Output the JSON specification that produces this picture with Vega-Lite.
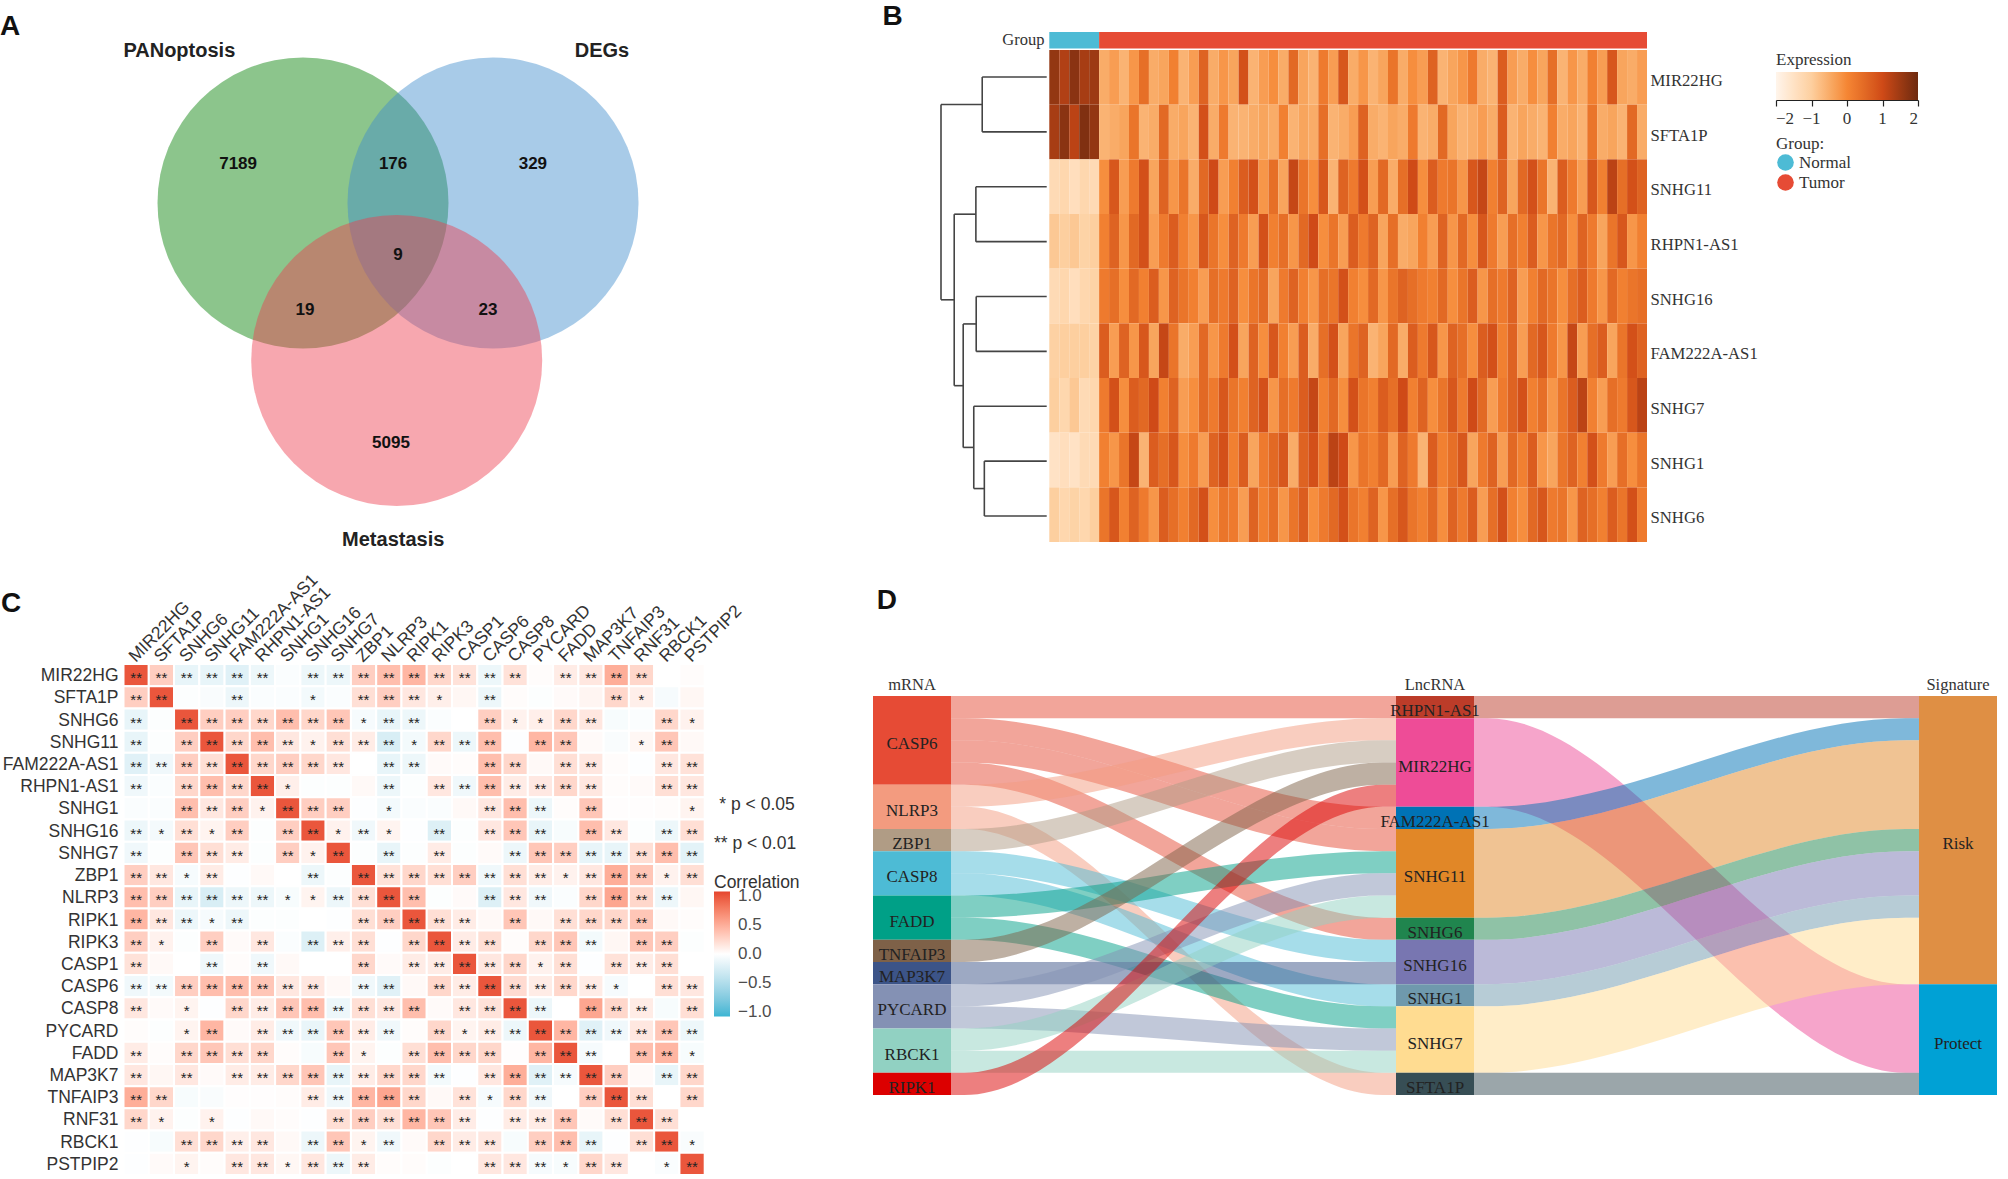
{"$schema":"https://vega.github.io/schema/vega-lite/v6.json","width":2008,"height":1179,"autosize":"none","padding":0,"background":"white","config":{"view":{"stroke":null}},
"datasets":{
"corr":[
{"i":0,"j":0,"r":1,"s":"**"},{"i":0,"j":1,"r":0.3,"s":"**"},{"i":0,"j":2,"r":-0.15,"s":"**"},{"i":0,"j":3,"r":-0.15,"s":"**"},{"i":0,"j":4,"r":-0.2,"s":"**"},{"i":0,"j":5,"r":-0.12,"s":"**"},{"i":0,"j":6,"r":-0.03},{"i":0,"j":7,"r":-0.12,"s":"**"},{"i":0,"j":8,"r":-0.12,"s":"**"},{"i":0,"j":9,"r":0.3,"s":"**"},{"i":0,"j":10,"r":0.4,"s":"**"},{"i":0,"j":11,"r":0.45,"s":"**"},{"i":0,"j":12,"r":0.25,"s":"**"},{"i":0,"j":13,"r":0.18,"s":"**"},{"i":0,"j":14,"r":-0.12,"s":"**"},{"i":0,"j":15,"r":0.18,"s":"**"},{"i":0,"j":16,"r":0.02},{"i":0,"j":17,"r":0.12,"s":"**"},{"i":0,"j":18,"r":0.15,"s":"**"},{"i":0,"j":19,"r":0.5,"s":"**"},{"i":0,"j":20,"r":0.25,"s":"**"},{"i":0,"j":21,"r":0},{"i":0,"j":22,"r":0.02},
{"i":1,"j":0,"r":0.3,"s":"**"},{"i":1,"j":1,"r":1,"s":"**"},{"i":1,"j":2,"r":-0.02},{"i":1,"j":3,"r":-0.04},{"i":1,"j":4,"r":-0.12,"s":"**"},{"i":1,"j":5,"r":-0.03},{"i":1,"j":6,"r":-0.03},{"i":1,"j":7,"r":-0.08,"s":"*"},{"i":1,"j":8,"r":-0.03},{"i":1,"j":9,"r":0.2,"s":"**"},{"i":1,"j":10,"r":0.3,"s":"**"},{"i":1,"j":11,"r":0.15,"s":"**"},{"i":1,"j":12,"r":0.1,"s":"*"},{"i":1,"j":13,"r":0.05},{"i":1,"j":14,"r":-0.12,"s":"**"},{"i":1,"j":15,"r":0.02},{"i":1,"j":16,"r":-0.02},{"i":1,"j":17,"r":0.03},{"i":1,"j":18,"r":0.06},{"i":1,"j":19,"r":0.25,"s":"**"},{"i":1,"j":20,"r":0.1,"s":"*"},{"i":1,"j":21,"r":-0.06},{"i":1,"j":22,"r":0.05},
{"i":2,"j":0,"r":-0.15,"s":"**"},{"i":2,"j":1,"r":-0.02},{"i":2,"j":2,"r":1,"s":"**"},{"i":2,"j":3,"r":0.3,"s":"**"},{"i":2,"j":4,"r":0.3,"s":"**"},{"i":2,"j":5,"r":0.25,"s":"**"},{"i":2,"j":6,"r":0.4,"s":"**"},{"i":2,"j":7,"r":0.25,"s":"**"},{"i":2,"j":8,"r":0.35,"s":"**"},{"i":2,"j":9,"r":-0.06,"s":"*"},{"i":2,"j":10,"r":-0.15,"s":"**"},{"i":2,"j":11,"r":-0.12,"s":"**"},{"i":2,"j":12,"r":-0.03},{"i":2,"j":13,"r":0},{"i":2,"j":14,"r":0.3,"s":"**"},{"i":2,"j":15,"r":0.08,"s":"*"},{"i":2,"j":16,"r":0.1,"s":"*"},{"i":2,"j":17,"r":0.25,"s":"**"},{"i":2,"j":18,"r":0.15,"s":"**"},{"i":2,"j":19,"r":-0.05},{"i":2,"j":20,"r":-0.03},{"i":2,"j":21,"r":0.25,"s":"**"},{"i":2,"j":22,"r":0.08,"s":"*"},
{"i":3,"j":0,"r":-0.15,"s":"**"},{"i":3,"j":1,"r":-0.02},{"i":3,"j":2,"r":0.3,"s":"**"},{"i":3,"j":3,"r":1,"s":"**"},{"i":3,"j":4,"r":0.25,"s":"**"},{"i":3,"j":5,"r":0.4,"s":"**"},{"i":3,"j":6,"r":0.15,"s":"**"},{"i":3,"j":7,"r":0.08,"s":"*"},{"i":3,"j":8,"r":0.2,"s":"**"},{"i":3,"j":9,"r":0.12,"s":"**"},{"i":3,"j":10,"r":-0.25,"s":"**"},{"i":3,"j":11,"r":-0.08,"s":"*"},{"i":3,"j":12,"r":0.25,"s":"**"},{"i":3,"j":13,"r":-0.12,"s":"**"},{"i":3,"j":14,"r":0.4,"s":"**"},{"i":3,"j":15,"r":-0.01},{"i":3,"j":16,"r":0.45,"s":"**"},{"i":3,"j":17,"r":0.35,"s":"**"},{"i":3,"j":18,"r":0.03},{"i":3,"j":19,"r":-0.04},{"i":3,"j":20,"r":0.05,"s":"*"},{"i":3,"j":21,"r":0.35,"s":"**"},{"i":3,"j":22,"r":0.04},
{"i":4,"j":0,"r":-0.2,"s":"**"},{"i":4,"j":1,"r":-0.1,"s":"**"},{"i":4,"j":2,"r":0.3,"s":"**"},{"i":4,"j":3,"r":0.2,"s":"**"},{"i":4,"j":4,"r":1,"s":"**"},{"i":4,"j":5,"r":0.25,"s":"**"},{"i":4,"j":6,"r":0.3,"s":"**"},{"i":4,"j":7,"r":0.25,"s":"**"},{"i":4,"j":8,"r":0.15,"s":"**"},{"i":4,"j":9,"r":0},{"i":4,"j":10,"r":-0.15,"s":"**"},{"i":4,"j":11,"r":-0.12,"s":"**"},{"i":4,"j":12,"r":0.03},{"i":4,"j":13,"r":0.02},{"i":4,"j":14,"r":0.4,"s":"**"},{"i":4,"j":15,"r":0.25,"s":"**"},{"i":4,"j":16,"r":0.04},{"i":4,"j":17,"r":0.2,"s":"**"},{"i":4,"j":18,"r":0.15,"s":"**"},{"i":4,"j":19,"r":0.02},{"i":4,"j":20,"r":-0.01},{"i":4,"j":21,"r":0.15,"s":"**"},{"i":4,"j":22,"r":0.18,"s":"**"},
{"i":5,"j":0,"r":-0.1,"s":"**"},{"i":5,"j":1,"r":-0.03},{"i":5,"j":2,"r":0.25,"s":"**"},{"i":5,"j":3,"r":0.4,"s":"**"},{"i":5,"j":4,"r":0.25,"s":"**"},{"i":5,"j":5,"r":1,"s":"**"},{"i":5,"j":6,"r":0.1,"s":"*"},{"i":5,"j":7,"r":-0.02},{"i":5,"j":8,"r":-0.02},{"i":5,"j":9,"r":0.04},{"i":5,"j":10,"r":-0.12,"s":"**"},{"i":5,"j":11,"r":-0.02},{"i":5,"j":12,"r":0.15,"s":"**"},{"i":5,"j":13,"r":-0.1,"s":"**"},{"i":5,"j":14,"r":0.4,"s":"**"},{"i":5,"j":15,"r":0.12,"s":"**"},{"i":5,"j":16,"r":0.14,"s":"**"},{"i":5,"j":17,"r":0.25,"s":"**"},{"i":5,"j":18,"r":0.15,"s":"**"},{"i":5,"j":19,"r":0.02},{"i":5,"j":20,"r":0.03},{"i":5,"j":21,"r":0.2,"s":"**"},{"i":5,"j":22,"r":0.15,"s":"**"},
{"i":6,"j":0,"r":-0.03},{"i":6,"j":1,"r":-0.03},{"i":6,"j":2,"r":0.4,"s":"**"},{"i":6,"j":3,"r":0.15,"s":"**"},{"i":6,"j":4,"r":0.3,"s":"**"},{"i":6,"j":5,"r":0.08,"s":"*"},{"i":6,"j":6,"r":1,"s":"**"},{"i":6,"j":7,"r":0.3,"s":"**"},{"i":6,"j":8,"r":0.3,"s":"**"},{"i":6,"j":9,"r":-0.01},{"i":6,"j":10,"r":-0.08,"s":"*"},{"i":6,"j":11,"r":-0.03},{"i":6,"j":12,"r":-0.03},{"i":6,"j":13,"r":0.04},{"i":6,"j":14,"r":0.15,"s":"**"},{"i":6,"j":15,"r":0.4,"s":"**"},{"i":6,"j":16,"r":-0.12,"s":"**"},{"i":6,"j":17,"r":0.02},{"i":6,"j":18,"r":0.35,"s":"**"},{"i":6,"j":19,"r":0.01},{"i":6,"j":20,"r":0.01},{"i":6,"j":21,"r":0.02},{"i":6,"j":22,"r":0.07,"s":"*"},
{"i":7,"j":0,"r":-0.12,"s":"**"},{"i":7,"j":1,"r":-0.07,"s":"*"},{"i":7,"j":2,"r":0.2,"s":"**"},{"i":7,"j":3,"r":0.07,"s":"*"},{"i":7,"j":4,"r":0.3,"s":"**"},{"i":7,"j":5,"r":-0.02},{"i":7,"j":6,"r":0.3,"s":"**"},{"i":7,"j":7,"r":1,"s":"**"},{"i":7,"j":8,"r":0.08,"s":"*"},{"i":7,"j":9,"r":-0.1,"s":"**"},{"i":7,"j":10,"r":0.07,"s":"*"},{"i":7,"j":11,"r":-0.01},{"i":7,"j":12,"r":-0.22,"s":"**"},{"i":7,"j":13,"r":-0.02},{"i":7,"j":14,"r":0.15,"s":"**"},{"i":7,"j":15,"r":0.35,"s":"**"},{"i":7,"j":16,"r":-0.15,"s":"**"},{"i":7,"j":17,"r":-0.05},{"i":7,"j":18,"r":0.4,"s":"**"},{"i":7,"j":19,"r":0.15,"s":"**"},{"i":7,"j":20,"r":-0.02},{"i":7,"j":21,"r":-0.12,"s":"**"},{"i":7,"j":22,"r":0.2,"s":"**"},
{"i":8,"j":0,"r":-0.1,"s":"**"},{"i":8,"j":1,"r":-0.02},{"i":8,"j":2,"r":0.35,"s":"**"},{"i":8,"j":3,"r":0.2,"s":"**"},{"i":8,"j":4,"r":0.12,"s":"**"},{"i":8,"j":5,"r":-0.02},{"i":8,"j":6,"r":0.3,"s":"**"},{"i":8,"j":7,"r":0.08,"s":"*"},{"i":8,"j":8,"r":1,"s":"**"},{"i":8,"j":9,"r":-0.02},{"i":8,"j":10,"r":-0.15,"s":"**"},{"i":8,"j":11,"r":-0.02},{"i":8,"j":12,"r":0.12,"s":"**"},{"i":8,"j":13,"r":-0.02},{"i":8,"j":14,"r":0.03},{"i":8,"j":15,"r":-0.12,"s":"**"},{"i":8,"j":16,"r":0.35,"s":"**"},{"i":8,"j":17,"r":0.3,"s":"**"},{"i":8,"j":18,"r":-0.15,"s":"**"},{"i":8,"j":19,"r":-0.15,"s":"**"},{"i":8,"j":20,"r":0.2,"s":"**"},{"i":8,"j":21,"r":0.4,"s":"**"},{"i":8,"j":22,"r":-0.18,"s":"**"},
{"i":9,"j":0,"r":0.3,"s":"**"},{"i":9,"j":1,"r":0.15,"s":"**"},{"i":9,"j":2,"r":-0.06,"s":"*"},{"i":9,"j":3,"r":0.12,"s":"**"},{"i":9,"j":4,"r":-0.01},{"i":9,"j":5,"r":0.04},{"i":9,"j":6,"r":0},{"i":9,"j":7,"r":-0.12,"s":"**"},{"i":9,"j":8,"r":-0.02},{"i":9,"j":9,"r":1,"s":"**"},{"i":9,"j":10,"r":0.18,"s":"**"},{"i":9,"j":11,"r":0.25,"s":"**"},{"i":9,"j":12,"r":0.2,"s":"**"},{"i":9,"j":13,"r":0.3,"s":"**"},{"i":9,"j":14,"r":-0.1,"s":"**"},{"i":9,"j":15,"r":0.2,"s":"**"},{"i":9,"j":16,"r":0.12,"s":"**"},{"i":9,"j":17,"r":0.08,"s":"*"},{"i":9,"j":18,"r":0.15,"s":"**"},{"i":9,"j":19,"r":0.5,"s":"**"},{"i":9,"j":20,"r":0.35,"s":"**"},{"i":9,"j":21,"r":0.08,"s":"*"},{"i":9,"j":22,"r":0.2,"s":"**"},
{"i":10,"j":0,"r":0.4,"s":"**"},{"i":10,"j":1,"r":0.3,"s":"**"},{"i":10,"j":2,"r":-0.15,"s":"**"},{"i":10,"j":3,"r":-0.25,"s":"**"},{"i":10,"j":4,"r":-0.12,"s":"**"},{"i":10,"j":5,"r":-0.12,"s":"**"},{"i":10,"j":6,"r":-0.05,"s":"*"},{"i":10,"j":7,"r":0.07,"s":"*"},{"i":10,"j":8,"r":-0.12,"s":"**"},{"i":10,"j":9,"r":0.2,"s":"**"},{"i":10,"j":10,"r":1,"s":"**"},{"i":10,"j":11,"r":0.4,"s":"**"},{"i":10,"j":12,"r":-0.02},{"i":10,"j":13,"r":0.03},{"i":10,"j":14,"r":-0.22,"s":"**"},{"i":10,"j":15,"r":0.15,"s":"**"},{"i":10,"j":16,"r":-0.1,"s":"**"},{"i":10,"j":17,"r":-0.03},{"i":10,"j":18,"r":0.25,"s":"**"},{"i":10,"j":19,"r":0.55,"s":"**"},{"i":10,"j":20,"r":0.25,"s":"**"},{"i":10,"j":21,"r":-0.12,"s":"**"},{"i":10,"j":22,"r":0.05},
{"i":11,"j":0,"r":0.45,"s":"**"},{"i":11,"j":1,"r":0.15,"s":"**"},{"i":11,"j":2,"r":-0.12,"s":"**"},{"i":11,"j":3,"r":-0.06,"s":"*"},{"i":11,"j":4,"r":-0.12,"s":"**"},{"i":11,"j":5,"r":-0.02},{"i":11,"j":6,"r":-0.02},{"i":11,"j":7,"r":0},{"i":11,"j":8,"r":-0.01},{"i":11,"j":9,"r":0.2,"s":"**"},{"i":11,"j":10,"r":0.3,"s":"**"},{"i":11,"j":11,"r":1,"s":"**"},{"i":11,"j":12,"r":0.2,"s":"**"},{"i":11,"j":13,"r":0.12,"s":"**"},{"i":11,"j":14,"r":0.04},{"i":11,"j":15,"r":0.35,"s":"**"},{"i":11,"j":16,"r":0.04},{"i":11,"j":17,"r":0.2,"s":"**"},{"i":11,"j":18,"r":0.25,"s":"**"},{"i":11,"j":19,"r":0.25,"s":"**"},{"i":11,"j":20,"r":0.35,"s":"**"},{"i":11,"j":21,"r":0.04},{"i":11,"j":22,"r":0.02},
{"i":12,"j":0,"r":0.3,"s":"**"},{"i":12,"j":1,"r":0.08,"s":"*"},{"i":12,"j":2,"r":-0.02},{"i":12,"j":3,"r":0.3,"s":"**"},{"i":12,"j":4,"r":0.03},{"i":12,"j":5,"r":0.15,"s":"**"},{"i":12,"j":6,"r":-0.03},{"i":12,"j":7,"r":-0.22,"s":"**"},{"i":12,"j":8,"r":0.1,"s":"**"},{"i":12,"j":9,"r":0.2,"s":"**"},{"i":12,"j":10,"r":-0.01},{"i":12,"j":11,"r":0.25,"s":"**"},{"i":12,"j":12,"r":1,"s":"**"},{"i":12,"j":13,"r":0.12,"s":"**"},{"i":12,"j":14,"r":0.2,"s":"**"},{"i":12,"j":15,"r":0.02},{"i":12,"j":16,"r":0.25,"s":"**"},{"i":12,"j":17,"r":0.35,"s":"**"},{"i":12,"j":18,"r":-0.08,"s":"**"},{"i":12,"j":19,"r":0.05},{"i":12,"j":20,"r":0.35,"s":"**"},{"i":12,"j":21,"r":0.3,"s":"**"},{"i":12,"j":22,"r":-0.02},
{"i":13,"j":0,"r":0.18,"s":"**"},{"i":13,"j":1,"r":0.04},{"i":13,"j":2,"r":0},{"i":13,"j":3,"r":-0.1,"s":"**"},{"i":13,"j":4,"r":0.02},{"i":13,"j":5,"r":-0.1,"s":"**"},{"i":13,"j":6,"r":0.04},{"i":13,"j":7,"r":0},{"i":13,"j":8,"r":0},{"i":13,"j":9,"r":0.25,"s":"**"},{"i":13,"j":10,"r":0.03},{"i":13,"j":11,"r":0.12,"s":"**"},{"i":13,"j":12,"r":0.12,"s":"**"},{"i":13,"j":13,"r":1,"s":"**"},{"i":13,"j":14,"r":0.15,"s":"**"},{"i":13,"j":15,"r":0.25,"s":"**"},{"i":13,"j":16,"r":0.08,"s":"*"},{"i":13,"j":17,"r":0.2,"s":"**"},{"i":13,"j":18,"r":-0.01},{"i":13,"j":19,"r":0.18,"s":"**"},{"i":13,"j":20,"r":0.12,"s":"**"},{"i":13,"j":21,"r":0.2,"s":"**"},{"i":13,"j":22,"r":0},
{"i":14,"j":0,"r":-0.1,"s":"**"},{"i":14,"j":1,"r":-0.08,"s":"**"},{"i":14,"j":2,"r":0.3,"s":"**"},{"i":14,"j":3,"r":0.4,"s":"**"},{"i":14,"j":4,"r":0.4,"s":"**"},{"i":14,"j":5,"r":0.35,"s":"**"},{"i":14,"j":6,"r":0.15,"s":"**"},{"i":14,"j":7,"r":0.15,"s":"**"},{"i":14,"j":8,"r":0.04},{"i":14,"j":9,"r":-0.1,"s":"**"},{"i":14,"j":10,"r":-0.2,"s":"**"},{"i":14,"j":11,"r":0.04},{"i":14,"j":12,"r":0.25,"s":"**"},{"i":14,"j":13,"r":0.12,"s":"**"},{"i":14,"j":14,"r":1,"s":"**"},{"i":14,"j":15,"r":0.22,"s":"**"},{"i":14,"j":16,"r":0.12,"s":"**"},{"i":14,"j":17,"r":0.25,"s":"**"},{"i":14,"j":18,"r":0.12,"s":"**"},{"i":14,"j":19,"r":-0.06,"s":"*"},{"i":14,"j":20,"r":0},{"i":14,"j":21,"r":0.2,"s":"**"},{"i":14,"j":22,"r":0.15,"s":"**"},
{"i":15,"j":0,"r":0.15,"s":"**"},{"i":15,"j":1,"r":0.03},{"i":15,"j":2,"r":0.07,"s":"*"},{"i":15,"j":3,"r":-0.01},{"i":15,"j":4,"r":0.25,"s":"**"},{"i":15,"j":5,"r":0.12,"s":"**"},{"i":15,"j":6,"r":0.35,"s":"**"},{"i":15,"j":7,"r":0.4,"s":"**"},{"i":15,"j":8,"r":-0.12,"s":"**"},{"i":15,"j":9,"r":0.2,"s":"**"},{"i":15,"j":10,"r":0.15,"s":"**"},{"i":15,"j":11,"r":0.4,"s":"**"},{"i":15,"j":12,"r":0.03},{"i":15,"j":13,"r":0.15,"s":"**"},{"i":15,"j":14,"r":0.18,"s":"**"},{"i":15,"j":15,"r":1,"s":"**"},{"i":15,"j":16,"r":-0.12,"s":"**"},{"i":15,"j":17,"r":0},{"i":15,"j":18,"r":0.55,"s":"**"},{"i":15,"j":19,"r":0.25,"s":"**"},{"i":15,"j":20,"r":0.12,"s":"**"},{"i":15,"j":21,"r":-0.05},{"i":15,"j":22,"r":0.2,"s":"**"},
{"i":16,"j":0,"r":0.02},{"i":16,"j":1,"r":-0.02},{"i":16,"j":2,"r":0.07,"s":"*"},{"i":16,"j":3,"r":0.45,"s":"**"},{"i":16,"j":4,"r":0.03},{"i":16,"j":5,"r":0.12,"s":"**"},{"i":16,"j":6,"r":-0.1,"s":"**"},{"i":16,"j":7,"r":-0.14,"s":"**"},{"i":16,"j":8,"r":0.35,"s":"**"},{"i":16,"j":9,"r":0.12,"s":"**"},{"i":16,"j":10,"r":-0.1,"s":"**"},{"i":16,"j":11,"r":0.02},{"i":16,"j":12,"r":0.25,"s":"**"},{"i":16,"j":13,"r":0.07,"s":"*"},{"i":16,"j":14,"r":0.12,"s":"**"},{"i":16,"j":15,"r":-0.12,"s":"**"},{"i":16,"j":16,"r":1,"s":"**"},{"i":16,"j":17,"r":0.45,"s":"**"},{"i":16,"j":18,"r":-0.2,"s":"**"},{"i":16,"j":19,"r":-0.1,"s":"**"},{"i":16,"j":20,"r":0.15,"s":"**"},{"i":16,"j":21,"r":0.35,"s":"**"},{"i":16,"j":22,"r":-0.12,"s":"**"},
{"i":17,"j":0,"r":0.12,"s":"**"},{"i":17,"j":1,"r":0.02},{"i":17,"j":2,"r":0.25,"s":"**"},{"i":17,"j":3,"r":0.35,"s":"**"},{"i":17,"j":4,"r":0.2,"s":"**"},{"i":17,"j":5,"r":0.25,"s":"**"},{"i":17,"j":6,"r":0.02},{"i":17,"j":7,"r":-0.05},{"i":17,"j":8,"r":0.35,"s":"**"},{"i":17,"j":9,"r":0.07,"s":"*"},{"i":17,"j":10,"r":-0.02},{"i":17,"j":11,"r":0.2,"s":"**"},{"i":17,"j":12,"r":0.4,"s":"**"},{"i":17,"j":13,"r":0.25,"s":"**"},{"i":17,"j":14,"r":0.25,"s":"**"},{"i":17,"j":15,"r":0.01},{"i":17,"j":16,"r":0.45,"s":"**"},{"i":17,"j":17,"r":1,"s":"**"},{"i":17,"j":18,"r":-0.06,"s":"**"},{"i":17,"j":19,"r":0},{"i":17,"j":20,"r":0.4,"s":"**"},{"i":17,"j":21,"r":0.45,"s":"**"},{"i":17,"j":22,"r":-0.05,"s":"*"},
{"i":18,"j":0,"r":0.15,"s":"**"},{"i":18,"j":1,"r":0.05},{"i":18,"j":2,"r":0.15,"s":"**"},{"i":18,"j":3,"r":0.03},{"i":18,"j":4,"r":0.12,"s":"**"},{"i":18,"j":5,"r":0.12,"s":"**"},{"i":18,"j":6,"r":0.25,"s":"**"},{"i":18,"j":7,"r":0.35,"s":"**"},{"i":18,"j":8,"r":-0.15,"s":"**"},{"i":18,"j":9,"r":0.12,"s":"**"},{"i":18,"j":10,"r":0.25,"s":"**"},{"i":18,"j":11,"r":0.25,"s":"**"},{"i":18,"j":12,"r":-0.08,"s":"**"},{"i":18,"j":13,"r":-0.01},{"i":18,"j":14,"r":0.15,"s":"**"},{"i":18,"j":15,"r":0.5,"s":"**"},{"i":18,"j":16,"r":-0.2,"s":"**"},{"i":18,"j":17,"r":-0.06,"s":"**"},{"i":18,"j":18,"r":1,"s":"**"},{"i":18,"j":19,"r":0.3,"s":"**"},{"i":18,"j":20,"r":0.03},{"i":18,"j":21,"r":-0.15,"s":"**"},{"i":18,"j":22,"r":0.25,"s":"**"},
{"i":19,"j":0,"r":0.5,"s":"**"},{"i":19,"j":1,"r":0.25,"s":"**"},{"i":19,"j":2,"r":-0.05},{"i":19,"j":3,"r":-0.04},{"i":19,"j":4,"r":0.01},{"i":19,"j":5,"r":0.01},{"i":19,"j":6,"r":0.02},{"i":19,"j":7,"r":0.12,"s":"**"},{"i":19,"j":8,"r":-0.1,"s":"**"},{"i":19,"j":9,"r":0.45,"s":"**"},{"i":19,"j":10,"r":0.55,"s":"**"},{"i":19,"j":11,"r":0.25,"s":"**"},{"i":19,"j":12,"r":0.04},{"i":19,"j":13,"r":0.18,"s":"**"},{"i":19,"j":14,"r":-0.06,"s":"*"},{"i":19,"j":15,"r":0.25,"s":"**"},{"i":19,"j":16,"r":-0.1,"s":"**"},{"i":19,"j":17,"r":0},{"i":19,"j":18,"r":0.3,"s":"**"},{"i":19,"j":19,"r":1,"s":"**"},{"i":19,"j":20,"r":0.2,"s":"**"},{"i":19,"j":21,"r":0},{"i":19,"j":22,"r":0.25,"s":"**"},
{"i":20,"j":0,"r":0.25,"s":"**"},{"i":20,"j":1,"r":0.08,"s":"*"},{"i":20,"j":2,"r":-0.02},{"i":20,"j":3,"r":0.08,"s":"*"},{"i":20,"j":4,"r":-0.01},{"i":20,"j":5,"r":0.04},{"i":20,"j":6,"r":0.02},{"i":20,"j":7,"r":-0.01},{"i":20,"j":8,"r":0.2,"s":"**"},{"i":20,"j":9,"r":0.3,"s":"**"},{"i":20,"j":10,"r":0.2,"s":"**"},{"i":20,"j":11,"r":0.45,"s":"**"},{"i":20,"j":12,"r":0.35,"s":"**"},{"i":20,"j":13,"r":0.12,"s":"**"},{"i":20,"j":14,"r":-0.01},{"i":20,"j":15,"r":0.12,"s":"**"},{"i":20,"j":16,"r":0.12,"s":"**"},{"i":20,"j":17,"r":0.35,"s":"**"},{"i":20,"j":18,"r":0.03},{"i":20,"j":19,"r":0.2,"s":"**"},{"i":20,"j":20,"r":1,"s":"**"},{"i":20,"j":21,"r":0.2,"s":"**"},{"i":20,"j":22,"r":0},
{"i":21,"j":0,"r":-0.01},{"i":21,"j":1,"r":-0.05},{"i":21,"j":2,"r":0.2,"s":"**"},{"i":21,"j":3,"r":0.25,"s":"**"},{"i":21,"j":4,"r":0.1,"s":"**"},{"i":21,"j":5,"r":0.15,"s":"**"},{"i":21,"j":6,"r":0.04},{"i":21,"j":7,"r":-0.12,"s":"**"},{"i":21,"j":8,"r":0.35,"s":"**"},{"i":21,"j":9,"r":0.07,"s":"*"},{"i":21,"j":10,"r":-0.1,"s":"**"},{"i":21,"j":11,"r":0.03},{"i":21,"j":12,"r":0.25,"s":"**"},{"i":21,"j":13,"r":0.12,"s":"**"},{"i":21,"j":14,"r":0.15,"s":"**"},{"i":21,"j":15,"r":-0.05},{"i":21,"j":16,"r":0.3,"s":"**"},{"i":21,"j":17,"r":0.4,"s":"**"},{"i":21,"j":18,"r":-0.15,"s":"**"},{"i":21,"j":19,"r":-0.01},{"i":21,"j":20,"r":0.2,"s":"**"},{"i":21,"j":21,"r":1,"s":"**"},{"i":21,"j":22,"r":-0.04,"s":"*"},
{"i":22,"j":0,"r":-0.01},{"i":22,"j":1,"r":0.03},{"i":22,"j":2,"r":0.07,"s":"*"},{"i":22,"j":3,"r":0.02},{"i":22,"j":4,"r":0.15,"s":"**"},{"i":22,"j":5,"r":0.15,"s":"**"},{"i":22,"j":6,"r":0.05,"s":"*"},{"i":22,"j":7,"r":0.15,"s":"**"},{"i":22,"j":8,"r":-0.12,"s":"**"},{"i":22,"j":9,"r":0.12,"s":"**"},{"i":22,"j":10,"r":0.02},{"i":22,"j":11,"r":0.02},{"i":22,"j":12,"r":-0.02},{"i":22,"j":13,"r":0},{"i":22,"j":14,"r":0.15,"s":"**"},{"i":22,"j":15,"r":0.15,"s":"**"},{"i":22,"j":16,"r":-0.06,"s":"**"},{"i":22,"j":17,"r":-0.05,"s":"*"},{"i":22,"j":18,"r":0.25,"s":"**"},{"i":22,"j":19,"r":0.15,"s":"**"},{"i":22,"j":20,"r":0},{"i":22,"j":21,"r":-0.03,"s":"*"},{"i":22,"j":22,"r":1,"s":"**"}
],
"flows":[
{"f":1,"c":"CASP6","x":0,"y":0,"y2":1},{"f":1,"c":"CASP6","x":0.03,"y":0,"y2":1},{"f":1,"c":"CASP6","x":0.97,"y":0,"y2":1},{"f":1,"c":"CASP6","x":1,"y":0,"y2":1},
{"f":2,"c":"CASP6","x":0,"y":1,"y2":2},{"f":2,"c":"CASP6","x":0.03,"y":1,"y2":2},{"f":2,"c":"CASP6","x":0.97,"y":5,"y2":6},{"f":2,"c":"CASP6","x":1,"y":5,"y2":6},
{"f":3,"c":"CASP6","x":0,"y":2,"y2":3},{"f":3,"c":"CASP6","x":0.03,"y":2,"y2":3},{"f":3,"c":"CASP6","x":0.97,"y":6,"y2":7},{"f":3,"c":"CASP6","x":1,"y":6,"y2":7},
{"f":4,"c":"CASP6","x":0,"y":3,"y2":4},{"f":4,"c":"CASP6","x":0.03,"y":3,"y2":4},{"f":4,"c":"CASP6","x":0.97,"y":10,"y2":11},{"f":4,"c":"CASP6","x":1,"y":10,"y2":11},
{"f":5,"c":"NLRP3","x":0,"y":4,"y2":5},{"f":5,"c":"NLRP3","x":0.03,"y":4,"y2":5},{"f":5,"c":"NLRP3","x":0.97,"y":1,"y2":2},{"f":5,"c":"NLRP3","x":1,"y":1,"y2":2},
{"f":6,"c":"NLRP3","x":0,"y":5,"y2":6},{"f":6,"c":"NLRP3","x":0.03,"y":5,"y2":6},{"f":6,"c":"NLRP3","x":0.97,"y":17,"y2":18},{"f":6,"c":"NLRP3","x":1,"y":17,"y2":18},
{"f":7,"c":"ZBP1","x":0,"y":6,"y2":7},{"f":7,"c":"ZBP1","x":0.03,"y":6,"y2":7},{"f":7,"c":"ZBP1","x":0.97,"y":2,"y2":3},{"f":7,"c":"ZBP1","x":1,"y":2,"y2":3},
{"f":8,"c":"CASP8","x":0,"y":7,"y2":8},{"f":8,"c":"CASP8","x":0.03,"y":7,"y2":8},{"f":8,"c":"CASP8","x":0.97,"y":11,"y2":12},{"f":8,"c":"CASP8","x":1,"y":11,"y2":12},
{"f":9,"c":"CASP8","x":0,"y":8,"y2":9},{"f":9,"c":"CASP8","x":0.03,"y":8,"y2":9},{"f":9,"c":"CASP8","x":0.97,"y":13,"y2":14},{"f":9,"c":"CASP8","x":1,"y":13,"y2":14},
{"f":10,"c":"FADD","x":0,"y":9,"y2":10},{"f":10,"c":"FADD","x":0.03,"y":9,"y2":10},{"f":10,"c":"FADD","x":0.97,"y":7,"y2":8},{"f":10,"c":"FADD","x":1,"y":7,"y2":8},
{"f":11,"c":"FADD","x":0,"y":10,"y2":11},{"f":11,"c":"FADD","x":0.03,"y":10,"y2":11},{"f":11,"c":"FADD","x":0.97,"y":14,"y2":15},{"f":11,"c":"FADD","x":1,"y":14,"y2":15},
{"f":12,"c":"TNFAIP3","x":0,"y":11,"y2":12},{"f":12,"c":"TNFAIP3","x":0.03,"y":11,"y2":12},{"f":12,"c":"TNFAIP3","x":0.97,"y":3,"y2":4},{"f":12,"c":"TNFAIP3","x":1,"y":3,"y2":4},
{"f":13,"c":"MAP3K7","x":0,"y":12,"y2":13},{"f":13,"c":"MAP3K7","x":0.03,"y":12,"y2":13},{"f":13,"c":"MAP3K7","x":0.97,"y":12,"y2":13},{"f":13,"c":"MAP3K7","x":1,"y":12,"y2":13},
{"f":14,"c":"PYCARD","x":0,"y":13,"y2":14},{"f":14,"c":"PYCARD","x":0.03,"y":13,"y2":14},{"f":14,"c":"PYCARD","x":0.97,"y":8,"y2":9},{"f":14,"c":"PYCARD","x":1,"y":8,"y2":9},
{"f":15,"c":"PYCARD","x":0,"y":14,"y2":15},{"f":15,"c":"PYCARD","x":0.03,"y":14,"y2":15},{"f":15,"c":"PYCARD","x":0.97,"y":15,"y2":16},{"f":15,"c":"PYCARD","x":1,"y":15,"y2":16},
{"f":16,"c":"RBCK1","x":0,"y":15,"y2":16},{"f":16,"c":"RBCK1","x":0.03,"y":15,"y2":16},{"f":16,"c":"RBCK1","x":0.97,"y":9,"y2":10},{"f":16,"c":"RBCK1","x":1,"y":9,"y2":10},
{"f":17,"c":"RBCK1","x":0,"y":16,"y2":17},{"f":17,"c":"RBCK1","x":0.03,"y":16,"y2":17},{"f":17,"c":"RBCK1","x":0.97,"y":16,"y2":17},{"f":17,"c":"RBCK1","x":1,"y":16,"y2":17},
{"f":18,"c":"RIPK1","x":0,"y":17,"y2":18},{"f":18,"c":"RIPK1","x":0.03,"y":17,"y2":18},{"f":18,"c":"RIPK1","x":0.97,"y":4,"y2":5},{"f":18,"c":"RIPK1","x":1,"y":4,"y2":5},
{"f":19,"c":"RHPN1-AS1","x":2,"y":0,"y2":1},{"f":19,"c":"RHPN1-AS1","x":2.03,"y":0,"y2":1},{"f":19,"c":"RHPN1-AS1","x":2.97,"y":0,"y2":1},{"f":19,"c":"RHPN1-AS1","x":3,"y":0,"y2":1},
{"f":20,"c":"MIR22HG","x":2,"y":1,"y2":5},{"f":20,"c":"MIR22HG","x":2.03,"y":1,"y2":5},{"f":20,"c":"MIR22HG","x":2.97,"y":13,"y2":17},{"f":20,"c":"MIR22HG","x":3,"y":13,"y2":17},
{"f":21,"c":"FAM222A-AS1","x":2,"y":5,"y2":6},{"f":21,"c":"FAM222A-AS1","x":2.03,"y":5,"y2":6},{"f":21,"c":"FAM222A-AS1","x":2.97,"y":1,"y2":2},{"f":21,"c":"FAM222A-AS1","x":3,"y":1,"y2":2},
{"f":22,"c":"SNHG11","x":2,"y":6,"y2":10},{"f":22,"c":"SNHG11","x":2.03,"y":6,"y2":10},{"f":22,"c":"SNHG11","x":2.97,"y":2,"y2":6},{"f":22,"c":"SNHG11","x":3,"y":2,"y2":6},
{"f":23,"c":"SNHG6","x":2,"y":10,"y2":11},{"f":23,"c":"SNHG6","x":2.03,"y":10,"y2":11},{"f":23,"c":"SNHG6","x":2.97,"y":6,"y2":7},{"f":23,"c":"SNHG6","x":3,"y":6,"y2":7},
{"f":24,"c":"SNHG16","x":2,"y":11,"y2":13},{"f":24,"c":"SNHG16","x":2.03,"y":11,"y2":13},{"f":24,"c":"SNHG16","x":2.97,"y":7,"y2":9},{"f":24,"c":"SNHG16","x":3,"y":7,"y2":9},
{"f":25,"c":"SNHG1","x":2,"y":13,"y2":14},{"f":25,"c":"SNHG1","x":2.03,"y":13,"y2":14},{"f":25,"c":"SNHG1","x":2.97,"y":9,"y2":10},{"f":25,"c":"SNHG1","x":3,"y":9,"y2":10},
{"f":26,"c":"SNHG7","x":2,"y":14,"y2":17},{"f":26,"c":"SNHG7","x":2.03,"y":14,"y2":17},{"f":26,"c":"SNHG7","x":2.97,"y":10,"y2":13},{"f":26,"c":"SNHG7","x":3,"y":10,"y2":13},
{"f":27,"c":"SFTA1P","x":2,"y":17,"y2":18},{"f":27,"c":"SFTA1P","x":2.03,"y":17,"y2":18},{"f":27,"c":"SFTA1P","x":2.97,"y":17,"y2":18},{"f":27,"c":"SFTA1P","x":3,"y":17,"y2":18}
],
"nodes":[
{"c":"CASP6","x":-1,"x2":0,"y":0,"y2":4,"m":-0.5,"n":2},{"c":"NLRP3","x":-1,"x2":0,"y":4,"y2":6,"m":-0.5,"n":5},{"c":"ZBP1","x":-1,"x2":0,"y":6,"y2":7,"m":-0.5,"n":6.5},{"c":"CASP8","x":-1,"x2":0,"y":7,"y2":9,"m":-0.5,"n":8},{"c":"FADD","x":-1,"x2":0,"y":9,"y2":11,"m":-0.5,"n":10},{"c":"TNFAIP3","x":-1,"x2":0,"y":11,"y2":12,"m":-0.5,"n":11.5},{"c":"MAP3K7","x":-1,"x2":0,"y":12,"y2":13,"m":-0.5,"n":12.5},{"c":"PYCARD","x":-1,"x2":0,"y":13,"y2":15,"m":-0.5,"n":14},{"c":"RBCK1","x":-1,"x2":0,"y":15,"y2":17,"m":-0.5,"n":16},{"c":"RIPK1","x":-1,"x2":0,"y":17,"y2":18,"m":-0.5,"n":17.5},
{"c":"RHPN1-AS1","x":1,"x2":2,"y":0,"y2":1,"m":1.5,"n":0.5},{"c":"MIR22HG","x":1,"x2":2,"y":1,"y2":5,"m":1.5,"n":3},{"c":"FAM222A-AS1","x":1,"x2":2,"y":5,"y2":6,"m":1.5,"n":5.5},{"c":"SNHG11","x":1,"x2":2,"y":6,"y2":10,"m":1.5,"n":8},{"c":"SNHG6","x":1,"x2":2,"y":10,"y2":11,"m":1.5,"n":10.5},{"c":"SNHG16","x":1,"x2":2,"y":11,"y2":13,"m":1.5,"n":12},{"c":"SNHG1","x":1,"x2":2,"y":13,"y2":14,"m":1.5,"n":13.5},{"c":"SNHG7","x":1,"x2":2,"y":14,"y2":17,"m":1.5,"n":15.5},{"c":"SFTA1P","x":1,"x2":2,"y":17,"y2":18,"m":1.5,"n":17.5},
{"c":"Risk","x":3,"x2":4,"y":0,"y2":13,"m":3.5,"n":6.5},{"c":"Protect","x":3,"x2":4,"y":13,"y2":18,"m":3.5,"n":15.5}
]
},
"layer":[
{"data":{"values":[{"set":"PANoptosis","x":0,"y":0},{"set":"DEGs","x":130.6,"y":0},{"set":"Metastasis","x":64.4,"y":108.2}]},
"mark":{"type":"point","filled":true,"size":84681,"opacity":0.45},
"encoding":{"x":{"field":"x","type":"quantitative","axis":null,"scale":{"domain":[0,100],"range":[303,448.5],"zero":false,"nice":false}},"y":{"field":"y","type":"quantitative","axis":null,"scale":{"domain":[0,100],"range":[203,348.5],"zero":false,"nice":false}},"color":{"field":"set","type":"nominal","legend":null,"scale":{"domain":["PANoptosis","DEGs","Metastasis"],"range":["#007F00","#3E8CCC","#EE3C4E"]}}}},
{"data":{"values":[{"t":"7189","x":-44.6,"y":-26.8},{"t":"176","x":61.9,"y":-26.8},{"t":"329","x":158,"y":-26.8},{"t":"19","x":1.4,"y":73.5},{"t":"9","x":65.3,"y":35.7},{"t":"23","x":127.1,"y":73.5},{"t":"5095","x":60.5,"y":165}]},
"mark":{"type":"text","font":"Liberation Sans","fontWeight":"bold","fontSize":17,"color":"#111111"},
"encoding":{"text":{"field":"t"},"x":{"field":"x","type":"quantitative","axis":null,"scale":{"domain":[0,100],"range":[303,448.5],"zero":false,"nice":false}},"y":{"field":"y","type":"quantitative","axis":null,"scale":{"domain":[0,100],"range":[203,348.5],"zero":false,"nice":false}}}},
{"data":{"values":[{"t":"PANoptosis","x":-85,"y":-105},{"t":"DEGs","x":205.5,"y":-105},{"t":"Metastasis","x":62,"y":231}]},
"mark":{"type":"text","font":"Liberation Sans","fontWeight":"bold","fontSize":20,"color":"#222222","dy":1},
"encoding":{"text":{"field":"t"},"x":{"field":"x","type":"quantitative","axis":null,"scale":{"domain":[0,100],"range":[303,448.5],"zero":false,"nice":false}},"y":{"field":"y","type":"quantitative","axis":null,"scale":{"domain":[0,100],"range":[203,348.5],"zero":false,"nice":false}}}},
{"data":{"values":[
{"g":0,"s":0,"v":1.6},{"g":0,"s":1,"v":1.3},{"g":0,"s":2,"v":1.7},{"g":0,"s":3,"v":1.4},{"g":0,"s":4,"v":1.5},{"g":0,"s":5,"v":-0.5},{"g":0,"s":6,"v":-0.3},{"g":0,"s":7,"v":-0.6},{"g":0,"s":8,"v":-0.2},{"g":0,"s":9,"v":0.4},{"g":0,"s":10,"v":-0.5},{"g":0,"s":11,"v":-0.4},{"g":0,"s":12,"v":0.1},{"g":0,"s":13,"v":-0.6},{"g":0,"s":14,"v":-0.3},{"g":0,"s":15,"v":0.6},{"g":0,"s":16,"v":-0.5},{"g":0,"s":17,"v":-0.2},{"g":0,"s":18,"v":-0.4},{"g":0,"s":19,"v":0.9},{"g":0,"s":20,"v":-0.6},{"g":0,"s":21,"v":-0.3},{"g":0,"s":22,"v":-0.1},{"g":0,"s":23,"v":-0.5},{"g":0,"s":24,"v":0.5},{"g":0,"s":25,"v":-0.4},{"g":0,"s":26,"v":-0.6},{"g":0,"s":27,"v":0.2},{"g":0,"s":28,"v":-0.3},{"g":0,"s":29,"v":0.8},{"g":0,"s":30,"v":-0.5},{"g":0,"s":31,"v":-0.2},{"g":0,"s":32,"v":-0.6},{"g":0,"s":33,"v":-0.4},{"g":0,"s":34,"v":0.3},{"g":0,"s":35,"v":-0.5},{"g":0,"s":36,"v":-0.1},{"g":0,"s":37,"v":-0.3},{"g":0,"s":38,"v":0.6},{"g":0,"s":39,"v":-0.6},{"g":0,"s":40,"v":-0.4},{"g":0,"s":41,"v":-0.2},{"g":0,"s":42,"v":0.2},{"g":0,"s":43,"v":-0.5},{"g":0,"s":44,"v":-0.6},{"g":0,"s":45,"v":0.7},{"g":0,"s":46,"v":-0.3},{"g":0,"s":47,"v":-0.5},{"g":0,"s":48,"v":-0.1},{"g":0,"s":49,"v":-0.4},{"g":0,"s":50,"v":0.4},{"g":0,"s":51,"v":-0.6},{"g":0,"s":52,"v":-0.2},{"g":0,"s":53,"v":-0.5},{"g":0,"s":54,"v":0.1},{"g":0,"s":55,"v":-0.3},{"g":0,"s":56,"v":0.8},{"g":0,"s":57,"v":-0.4},{"g":0,"s":58,"v":-0.5},{"g":0,"s":59,"v":-0.3},
{"g":1,"s":0,"v":1.4},{"g":1,"s":1,"v":1.7},{"g":1,"s":2,"v":1.2},{"g":1,"s":3,"v":1.8},{"g":1,"s":4,"v":1.6},{"g":1,"s":5,"v":-0.6},{"g":1,"s":6,"v":-0.5},{"g":1,"s":7,"v":-0.4},{"g":1,"s":8,"v":0.3},{"g":1,"s":9,"v":-0.6},{"g":1,"s":10,"v":-0.5},{"g":1,"s":11,"v":0.5},{"g":1,"s":12,"v":-0.5},{"g":1,"s":13,"v":-0.4},{"g":1,"s":14,"v":-0.6},{"g":1,"s":15,"v":0.9},{"g":1,"s":16,"v":-0.5},{"g":1,"s":17,"v":0.2},{"g":1,"s":18,"v":-0.6},{"g":1,"s":19,"v":-0.6},{"g":1,"s":20,"v":-0.5},{"g":1,"s":21,"v":-0.4},{"g":1,"s":22,"v":-0.5},{"g":1,"s":23,"v":0.1},{"g":1,"s":24,"v":-0.6},{"g":1,"s":25,"v":-0.4},{"g":1,"s":26,"v":-0.5},{"g":1,"s":27,"v":0.4},{"g":1,"s":28,"v":-0.6},{"g":1,"s":29,"v":-0.5},{"g":1,"s":30,"v":-0.3},{"g":1,"s":31,"v":0.6},{"g":1,"s":32,"v":-0.5},{"g":1,"s":33,"v":-0.6},{"g":1,"s":34,"v":-0.4},{"g":1,"s":35,"v":-0.5},{"g":1,"s":36,"v":0.2},{"g":1,"s":37,"v":-0.6},{"g":1,"s":38,"v":-0.5},{"g":1,"s":39,"v":0.5},{"g":1,"s":40,"v":-0.4},{"g":1,"s":41,"v":-0.6},{"g":1,"s":42,"v":-0.5},{"g":1,"s":43,"v":-0.3},{"g":1,"s":44,"v":-0.5},{"g":1,"s":45,"v":0.7},{"g":1,"s":46,"v":-0.6},{"g":1,"s":47,"v":-0.4},{"g":1,"s":48,"v":-0.5},{"g":1,"s":49,"v":-0.6},{"g":1,"s":50,"v":0.1},{"g":1,"s":51,"v":-0.5},{"g":1,"s":52,"v":-0.4},{"g":1,"s":53,"v":-0.6},{"g":1,"s":54,"v":0.3},{"g":1,"s":55,"v":-0.5},{"g":1,"s":56,"v":-0.4},{"g":1,"s":57,"v":-0.6},{"g":1,"s":58,"v":0.5},{"g":1,"s":59,"v":-0.5},
{"g":2,"s":0,"v":-1.3},{"g":2,"s":1,"v":-1.2},{"g":2,"s":2,"v":-1.4},{"g":2,"s":3,"v":-1.2},{"g":2,"s":4,"v":-1.3},{"g":2,"s":5,"v":-0.1},{"g":2,"s":6,"v":0.8},{"g":2,"s":7,"v":-0.3},{"g":2,"s":8,"v":0.2},{"g":2,"s":9,"v":0.9},{"g":2,"s":10,"v":-0.4},{"g":2,"s":11,"v":0.6},{"g":2,"s":12,"v":-0.2},{"g":2,"s":13,"v":0.3},{"g":2,"s":14,"v":-0.5},{"g":2,"s":15,"v":0.5},{"g":2,"s":16,"v":1},{"g":2,"s":17,"v":-0.3},{"g":2,"s":18,"v":0.1},{"g":2,"s":19,"v":0.7},{"g":2,"s":20,"v":0.9},{"g":2,"s":21,"v":-0.2},{"g":2,"s":22,"v":0.4},{"g":2,"s":23,"v":-0.4},{"g":2,"s":24,"v":1.1},{"g":2,"s":25,"v":0.3},{"g":2,"s":26,"v":-0.1},{"g":2,"s":27,"v":0.8},{"g":2,"s":28,"v":-0.6},{"g":2,"s":29,"v":0.6},{"g":2,"s":30,"v":0.2},{"g":2,"s":31,"v":0.9},{"g":2,"s":32,"v":-0.3},{"g":2,"s":33,"v":0.5},{"g":2,"s":34,"v":-0.5},{"g":2,"s":35,"v":0.4},{"g":2,"s":36,"v":1},{"g":2,"s":37,"v":-0.1},{"g":2,"s":38,"v":0.7},{"g":2,"s":39,"v":0.2},{"g":2,"s":40,"v":0.3},{"g":2,"s":41,"v":-0.2},{"g":2,"s":42,"v":0.8},{"g":2,"s":43,"v":1.1},{"g":2,"s":44,"v":0.1},{"g":2,"s":45,"v":0.6},{"g":2,"s":46,"v":-0.4},{"g":2,"s":47,"v":0.5},{"g":2,"s":48,"v":0.9},{"g":2,"s":49,"v":0.3},{"g":2,"s":50,"v":-0.6},{"g":2,"s":51,"v":0.7},{"g":2,"s":52,"v":0.2},{"g":2,"s":53,"v":-0.3},{"g":2,"s":54,"v":0.8},{"g":2,"s":55,"v":0.1},{"g":2,"s":56,"v":1.2},{"g":2,"s":57,"v":0.4},{"g":2,"s":58,"v":0.9},{"g":2,"s":59,"v":0.6},
{"g":3,"s":0,"v":-0.9},{"g":3,"s":1,"v":-1},{"g":3,"s":2,"v":-0.9},{"g":3,"s":3,"v":-1.1},{"g":3,"s":4,"v":-1},{"g":3,"s":5,"v":0.1},{"g":3,"s":6,"v":0.6},{"g":3,"s":7,"v":-0.2},{"g":3,"s":8,"v":0.5},{"g":3,"s":9,"v":0.9},{"g":3,"s":10,"v":-0.3},{"g":3,"s":11,"v":0.2},{"g":3,"s":12,"v":0.7},{"g":3,"s":13,"v":0.1},{"g":3,"s":14,"v":-0.2},{"g":3,"s":15,"v":0.8},{"g":3,"s":16,"v":0.3},{"g":3,"s":17,"v":-0.1},{"g":3,"s":18,"v":0.6},{"g":3,"s":19,"v":0.2},{"g":3,"s":20,"v":-0.3},{"g":3,"s":21,"v":0.9},{"g":3,"s":22,"v":0.1},{"g":3,"s":23,"v":0.4},{"g":3,"s":24,"v":-0.2},{"g":3,"s":25,"v":0.5},{"g":3,"s":26,"v":1},{"g":3,"s":27,"v":-0.1},{"g":3,"s":28,"v":0.3},{"g":3,"s":29,"v":-0.3},{"g":3,"s":30,"v":0.7},{"g":3,"s":31,"v":0.2},{"g":3,"s":32,"v":0.6},{"g":3,"s":33,"v":-0.4},{"g":3,"s":34,"v":0.4},{"g":3,"s":35,"v":-0.5},{"g":3,"s":36,"v":-0.4},{"g":3,"s":37,"v":0.1},{"g":3,"s":38,"v":-0.3},{"g":3,"s":39,"v":0.6},{"g":3,"s":40,"v":-0.2},{"g":3,"s":41,"v":0.5},{"g":3,"s":42,"v":-0.1},{"g":3,"s":43,"v":0.8},{"g":3,"s":44,"v":0.2},{"g":3,"s":45,"v":-0.3},{"g":3,"s":46,"v":0.4},{"g":3,"s":47,"v":0.1},{"g":3,"s":48,"v":0.7},{"g":3,"s":49,"v":-0.2},{"g":3,"s":50,"v":0.3},{"g":3,"s":51,"v":0.5},{"g":3,"s":52,"v":-0.1},{"g":3,"s":53,"v":0.6},{"g":3,"s":54,"v":0.2},{"g":3,"s":55,"v":-0.4},{"g":3,"s":56,"v":0.3},{"g":3,"s":57,"v":0.8},{"g":3,"s":58,"v":-0.2},{"g":3,"s":59,"v":0.1},
{"g":4,"s":0,"v":-1.3},{"g":4,"s":1,"v":-1.2},{"g":4,"s":2,"v":-1.4},{"g":4,"s":3,"v":-1.2},{"g":4,"s":4,"v":-1.1},{"g":4,"s":5,"v":0.2},{"g":4,"s":6,"v":0.4},{"g":4,"s":7,"v":-0.1},{"g":4,"s":8,"v":0.5},{"g":4,"s":9,"v":0.1},{"g":4,"s":10,"v":0.7},{"g":4,"s":11,"v":-0.2},{"g":4,"s":12,"v":0.6},{"g":4,"s":13,"v":0.3},{"g":4,"s":14,"v":0.1},{"g":4,"s":15,"v":-0.3},{"g":4,"s":16,"v":0.4},{"g":4,"s":17,"v":0.2},{"g":4,"s":18,"v":0.6},{"g":4,"s":19,"v":-0.1},{"g":4,"s":20,"v":0.3},{"g":4,"s":21,"v":0.5},{"g":4,"s":22,"v":-0.4},{"g":4,"s":23,"v":0.2},{"g":4,"s":24,"v":0.6},{"g":4,"s":25,"v":0.1},{"g":4,"s":26,"v":-0.2},{"g":4,"s":27,"v":0.4},{"g":4,"s":28,"v":0.3},{"g":4,"s":29,"v":0.9},{"g":4,"s":30,"v":0.1},{"g":4,"s":31,"v":-0.1},{"g":4,"s":32,"v":0.5},{"g":4,"s":33,"v":-0.2},{"g":4,"s":34,"v":0.3},{"g":4,"s":35,"v":0.6},{"g":4,"s":36,"v":0.4},{"g":4,"s":37,"v":0.2},{"g":4,"s":38,"v":0.1},{"g":4,"s":39,"v":0.5},{"g":4,"s":40,"v":-0.1},{"g":4,"s":41,"v":0.3},{"g":4,"s":42,"v":0.7},{"g":4,"s":43,"v":-0.2},{"g":4,"s":44,"v":0.4},{"g":4,"s":45,"v":0.2},{"g":4,"s":46,"v":0.6},{"g":4,"s":47,"v":-0.3},{"g":4,"s":48,"v":0.1},{"g":4,"s":49,"v":0.5},{"g":4,"s":50,"v":0.3},{"g":4,"s":51,"v":-0.1},{"g":4,"s":52,"v":0.4},{"g":4,"s":53,"v":0.7},{"g":4,"s":54,"v":0.2},{"g":4,"s":55,"v":-0.2},{"g":4,"s":56,"v":0.5},{"g":4,"s":57,"v":0.1},{"g":4,"s":58,"v":0.3},{"g":4,"s":59,"v":0.4},
{"g":5,"s":0,"v":-1.05},{"g":5,"s":1,"v":-1},{"g":5,"s":2,"v":-1},{"g":5,"s":3,"v":-1},{"g":5,"s":4,"v":-1.1},{"g":5,"s":5,"v":0.7},{"g":5,"s":6,"v":-0.3},{"g":5,"s":7,"v":0.6},{"g":5,"s":8,"v":-0.2},{"g":5,"s":9,"v":0.8},{"g":5,"s":10,"v":-0.4},{"g":5,"s":11,"v":1.1},{"g":5,"s":12,"v":0.3},{"g":5,"s":13,"v":-0.5},{"g":5,"s":14,"v":-0.3},{"g":5,"s":15,"v":0.5},{"g":5,"s":16,"v":-0.2},{"g":5,"s":17,"v":0.2},{"g":5,"s":18,"v":0.9},{"g":5,"s":19,"v":-0.4},{"g":5,"s":20,"v":0.6},{"g":5,"s":21,"v":-0.1},{"g":5,"s":22,"v":0.8},{"g":5,"s":23,"v":0.1},{"g":5,"s":24,"v":-0.3},{"g":5,"s":25,"v":0.7},{"g":5,"s":26,"v":-0.5},{"g":5,"s":27,"v":0.4},{"g":5,"s":28,"v":0.9},{"g":5,"s":29,"v":-0.4},{"g":5,"s":30,"v":0.3},{"g":5,"s":31,"v":0.6},{"g":5,"s":32,"v":-0.6},{"g":5,"s":33,"v":-0.4},{"g":5,"s":34,"v":0.5},{"g":5,"s":35,"v":-0.5},{"g":5,"s":36,"v":0.7},{"g":5,"s":37,"v":0.2},{"g":5,"s":38,"v":0.8},{"g":5,"s":39,"v":-0.2},{"g":5,"s":40,"v":0.6},{"g":5,"s":41,"v":0.4},{"g":5,"s":42,"v":-0.1},{"g":5,"s":43,"v":0.7},{"g":5,"s":44,"v":0.9},{"g":5,"s":45,"v":0.1},{"g":5,"s":46,"v":0.6},{"g":5,"s":47,"v":-0.3},{"g":5,"s":48,"v":0.5},{"g":5,"s":49,"v":0.8},{"g":5,"s":50,"v":0.2},{"g":5,"s":51,"v":-0.2},{"g":5,"s":52,"v":1.1},{"g":5,"s":53,"v":-0.3},{"g":5,"s":54,"v":0.4},{"g":5,"s":55,"v":0.7},{"g":5,"s":56,"v":-0.4},{"g":5,"s":57,"v":0.3},{"g":5,"s":58,"v":0.9},{"g":5,"s":59,"v":0.6},
{"g":6,"s":0,"v":-1},{"g":6,"s":1,"v":-1.2},{"g":6,"s":2,"v":-0.9},{"g":6,"s":3,"v":-1.3},{"g":6,"s":4,"v":-1.2},{"g":6,"s":5,"v":0.2},{"g":6,"s":6,"v":0.9},{"g":6,"s":7,"v":-0.1},{"g":6,"s":8,"v":0.7},{"g":6,"s":9,"v":0.5},{"g":6,"s":10,"v":1},{"g":6,"s":11,"v":0.1},{"g":6,"s":12,"v":0.6},{"g":6,"s":13,"v":-0.3},{"g":6,"s":14,"v":-0.1},{"g":6,"s":15,"v":0.5},{"g":6,"s":16,"v":0.2},{"g":6,"s":17,"v":0.8},{"g":6,"s":18,"v":0.3},{"g":6,"s":19,"v":0.1},{"g":6,"s":20,"v":0.6},{"g":6,"s":21,"v":0.9},{"g":6,"s":22,"v":-0.2},{"g":6,"s":23,"v":0.4},{"g":6,"s":24,"v":0.2},{"g":6,"s":25,"v":0.7},{"g":6,"s":26,"v":1.1},{"g":6,"s":27,"v":0.1},{"g":6,"s":28,"v":0.5},{"g":6,"s":29,"v":-0.1},{"g":6,"s":30,"v":0.9},{"g":6,"s":31,"v":0.3},{"g":6,"s":32,"v":0.1},{"g":6,"s":33,"v":0.7},{"g":6,"s":34,"v":0.4},{"g":6,"s":35,"v":1},{"g":6,"s":36,"v":0.1},{"g":6,"s":37,"v":0.6},{"g":6,"s":38,"v":-0.1},{"g":6,"s":39,"v":0.3},{"g":6,"s":40,"v":0.8},{"g":6,"s":41,"v":0.2},{"g":6,"s":42,"v":1},{"g":6,"s":43,"v":0.5},{"g":6,"s":44,"v":-0.3},{"g":6,"s":45,"v":0.2},{"g":6,"s":46,"v":0.6},{"g":6,"s":47,"v":0.9},{"g":6,"s":48,"v":0.1},{"g":6,"s":49,"v":0.4},{"g":6,"s":50,"v":-0.2},{"g":6,"s":51,"v":0.3},{"g":6,"s":52,"v":0.7},{"g":6,"s":53,"v":1.2},{"g":6,"s":54,"v":0.1},{"g":6,"s":55,"v":-0.3},{"g":6,"s":56,"v":0.4},{"g":6,"s":57,"v":0.2},{"g":6,"s":58,"v":0.8},{"g":6,"s":59,"v":1.2},
{"g":7,"s":0,"v":-1.5},{"g":7,"s":1,"v":-1.4},{"g":7,"s":2,"v":-1.5},{"g":7,"s":3,"v":-1.3},{"g":7,"s":4,"v":-1.3},{"g":7,"s":5,"v":0.1},{"g":7,"s":6,"v":-0.2},{"g":7,"s":7,"v":0.3},{"g":7,"s":8,"v":1.1},{"g":7,"s":9,"v":-0.6},{"g":7,"s":10,"v":0.7},{"g":7,"s":11,"v":0.4},{"g":7,"s":12,"v":0.8},{"g":7,"s":13,"v":-0.1},{"g":7,"s":14,"v":0.2},{"g":7,"s":15,"v":-0.3},{"g":7,"s":16,"v":0.6},{"g":7,"s":17,"v":0.9},{"g":7,"s":18,"v":0.1},{"g":7,"s":19,"v":0.7},{"g":7,"s":20,"v":-0.4},{"g":7,"s":21,"v":0.2},{"g":7,"s":22,"v":0.5},{"g":7,"s":23,"v":0.8},{"g":7,"s":24,"v":-0.5},{"g":7,"s":25,"v":0.6},{"g":7,"s":26,"v":0.9},{"g":7,"s":27,"v":0.2},{"g":7,"s":28,"v":1.2},{"g":7,"s":29,"v":1},{"g":7,"s":30,"v":-0.2},{"g":7,"s":31,"v":0.3},{"g":7,"s":32,"v":0.1},{"g":7,"s":33,"v":0.5},{"g":7,"s":34,"v":-0.3},{"g":7,"s":35,"v":0.6},{"g":7,"s":36,"v":0.2},{"g":7,"s":37,"v":-0.6},{"g":7,"s":38,"v":0.7},{"g":7,"s":39,"v":0.1},{"g":7,"s":40,"v":0.4},{"g":7,"s":41,"v":0.8},{"g":7,"s":42,"v":-0.4},{"g":7,"s":43,"v":0.2},{"g":7,"s":44,"v":0.6},{"g":7,"s":45,"v":-0.3},{"g":7,"s":46,"v":0.5},{"g":7,"s":47,"v":0.1},{"g":7,"s":48,"v":0.7},{"g":7,"s":49,"v":-0.2},{"g":7,"s":50,"v":-0.4},{"g":7,"s":51,"v":0.3},{"g":7,"s":52,"v":0.6},{"g":7,"s":53,"v":0.1},{"g":7,"s":54,"v":0.9},{"g":7,"s":55,"v":0.2},{"g":7,"s":56,"v":-0.3},{"g":7,"s":57,"v":0.4},{"g":7,"s":58,"v":-0.1},{"g":7,"s":59,"v":0.3},
{"g":8,"s":0,"v":-1},{"g":8,"s":1,"v":-1.2},{"g":8,"s":2,"v":-1.1},{"g":8,"s":3,"v":-1.2},{"g":8,"s":4,"v":-1},{"g":8,"s":5,"v":0.3},{"g":8,"s":6,"v":0.8},{"g":8,"s":7,"v":0.1},{"g":8,"s":8,"v":0.6},{"g":8,"s":9,"v":0.2},{"g":8,"s":10,"v":-0.2},{"g":8,"s":11,"v":0.7},{"g":8,"s":12,"v":0.4},{"g":8,"s":13,"v":0.1},{"g":8,"s":14,"v":0.5},{"g":8,"s":15,"v":0.9},{"g":8,"s":16,"v":-0.1},{"g":8,"s":17,"v":0.3},{"g":8,"s":18,"v":0.2},{"g":8,"s":19,"v":-0.3},{"g":8,"s":20,"v":0.6},{"g":8,"s":21,"v":0.1},{"g":8,"s":22,"v":0.4},{"g":8,"s":23,"v":-0.2},{"g":8,"s":24,"v":0.3},{"g":8,"s":25,"v":0.7},{"g":8,"s":26,"v":-0.1},{"g":8,"s":27,"v":0.2},{"g":8,"s":28,"v":0.5},{"g":8,"s":29,"v":0.9},{"g":8,"s":30,"v":0.3},{"g":8,"s":31,"v":0.1},{"g":8,"s":32,"v":0.6},{"g":8,"s":33,"v":-0.2},{"g":8,"s":34,"v":0.4},{"g":8,"s":35,"v":0.8},{"g":8,"s":36,"v":0.3},{"g":8,"s":37,"v":0.1},{"g":8,"s":38,"v":0.5},{"g":8,"s":39,"v":-0.1},{"g":8,"s":40,"v":0.6},{"g":8,"s":41,"v":0.2},{"g":8,"s":42,"v":0.7},{"g":8,"s":43,"v":-0.3},{"g":8,"s":44,"v":0.4},{"g":8,"s":45,"v":0.9},{"g":8,"s":46,"v":0.1},{"g":8,"s":47,"v":-0.1},{"g":8,"s":48,"v":0.5},{"g":8,"s":49,"v":0.8},{"g":8,"s":50,"v":0.2},{"g":8,"s":51,"v":0.3},{"g":8,"s":52,"v":-0.2},{"g":8,"s":53,"v":0.6},{"g":8,"s":54,"v":0.4},{"g":8,"s":55,"v":0.1},{"g":8,"s":56,"v":0.7},{"g":8,"s":57,"v":0.3},{"g":8,"s":58,"v":0.9},{"g":8,"s":59,"v":0.2}
]},
"mark":{"type":"rect"},
"encoding":{"x":{"field":"s","type":"ordinal","axis":null,"scale":{"range":[1049.3,1647],"paddingInner":0,"paddingOuter":0}},"y":{"field":"g","type":"ordinal","scale":{"range":[50,542],"paddingInner":0,"paddingOuter":0},"axis":{"orient":"right","offset":-358,"title":null,"domain":false,"ticks":false,"grid":false,"labelPadding":0,"labelOffset":3.5,"labelFont":"Liberation Serif","labelFontSize":16.7,"labelColor":"#333333","labelExpr":"['MIR22HG','SFTA1P','SNHG11','RHPN1-AS1','SNHG16','FAM222A-AS1','SNHG7','SNHG1','SNHG6'][datum.value]"}},"color":{"field":"v","type":"quantitative","scale":{"domain":[-2,-1,0,1,2],"range":["#FFF5EB","#FDCF9F","#F58634","#CF4A17","#6E2A0F"]},"legend":{"title":"Expression","orient":"none","legendX":1776,"legendY":52,"direction":"horizontal","gradientLength":142,"gradientThickness":28,"values":[-2,-1,0,1,2],"format":"d","titleFont":"Liberation Serif","titleFontSize":17,"titleFontWeight":"normal","titleColor":"#333333","labelFont":"Liberation Serif","labelFontSize":17,"labelColor":"#333333","labelAlign":"center","titlePadding":3,"labelOffset":11}}}},
{"data":{"values":[{"tick":-2},{"tick":-1},{"tick":0},{"tick":1},{"tick":2}]},
"mark":{"type":"point","opacity":0},
"encoding":{"x":{"field":"tick","type":"quantitative","scale":{"domain":[-2,2],"range":[1776,1918],"zero":false,"nice":false},"axis":{"orient":"bottom","offset":-1079,"title":null,"labels":false,"grid":false,"values":[-2,-1,0,1,2],"tickSize":6,"tickColor":"#222222","domainColor":"#222222","tickWidth":1.2,"domainWidth":1.2}}}},
{"data":{"values":[{"group":"Normal","row":"Group","from":0,"to":5},{"group":"Tumor","row":"Group","from":5,"to":60}]},
"mark":{"type":"rect"},
"encoding":{"x":{"field":"from","type":"quantitative","axis":null,"scale":{"domain":[0,60],"range":[1049.3,1647],"zero":false,"nice":false}},"x2":{"field":"to"},"y":{"field":"row","type":"nominal","scale":{"domain":["Group"],"range":[32,48.5],"paddingInner":0,"paddingOuter":0},"axis":{"orient":"left","offset":-1044,"title":null,"domain":false,"ticks":false,"grid":false,"labelPadding":0,"labelFont":"Liberation Serif","labelFontSize":16.5,"labelColor":"#333333"}},"color":{"field":"group","type":"nominal","scale":{"domain":["Normal","Tumor"],"range":["#4DBBD5","#E64B35"]},"legend":{"title":"Group:","orient":"none","legendX":1776,"legendY":136,"symbolType":"circle","symbolSize":276,"titleFont":"Liberation Serif","titleFontSize":17,"titleFontWeight":"normal","titleColor":"#333333","labelFont":"Liberation Serif","labelFontSize":17,"labelColor":"#333333","titlePadding":0,"rowPadding":2}}}},
{"data":{"values":[
{"h":1,"h2":1,"l":0.5,"l2":4.06},{"h":1,"h2":0.61,"l":0.5,"l2":0.5},{"h":0.61,"h2":0.61,"l":0,"l2":1},{"h":0.61,"h2":0,"l":0,"l2":0},{"h":0.61,"h2":0,"l":1,"l2":1},
{"h":1,"h2":0.875,"l":4.06,"l2":4.06},{"h":0.875,"h2":0.875,"l":2.5,"l2":5.625},{"h":0.875,"h2":0.67,"l":2.5,"l2":2.5},{"h":0.67,"h2":0.67,"l":2,"l2":3},{"h":0.67,"h2":0,"l":2,"l2":2},{"h":0.67,"h2":0,"l":3,"l2":3},
{"h":0.875,"h2":0.79,"l":5.625,"l2":5.625},{"h":0.79,"h2":0.79,"l":4.5,"l2":6.75},{"h":0.79,"h2":0.667,"l":4.5,"l2":4.5},{"h":0.667,"h2":0.667,"l":4,"l2":5},{"h":0.667,"h2":0,"l":4,"l2":4},{"h":0.667,"h2":0,"l":5,"l2":5},
{"h":0.79,"h2":0.69,"l":6.75,"l2":6.75},{"h":0.69,"h2":0.69,"l":6,"l2":7.5},{"h":0.69,"h2":0,"l":6,"l2":6},{"h":0.69,"h2":0.59,"l":7.5,"l2":7.5},{"h":0.59,"h2":0.59,"l":7,"l2":8},{"h":0.59,"h2":0,"l":7,"l2":7},{"h":0.59,"h2":0,"l":8,"l2":8}
]},
"mark":{"type":"rule","color":"#444444","strokeWidth":1.6},
"encoding":{"x":{"field":"h","type":"quantitative","axis":null,"scale":{"domain":[0,1],"range":[1046.7,941],"zero":false,"nice":false}},"x2":{"field":"h2"},"y":{"field":"l","type":"quantitative","axis":null,"scale":{"domain":[0,8],"range":[77,516],"zero":false,"nice":false}},"y2":{"field":"l2"}}},
{"data":{"name":"corr"},
"encoding":{"x":{"field":"j","type":"ordinal","scale":{"range":[123.5,704.7],"paddingInner":0,"paddingOuter":0},"axis":{"orient":"top","offset":-661,"title":null,"domain":false,"ticks":false,"grid":false,"labelAngle":-45,"labelAlign":"left","labelBaseline":"middle","labelPadding":2,"labelOffset":-4,"labelFont":"Liberation Sans","labelFontSize":17.5,"labelColor":"#333333","labelOverlap":false,"labelExpr":"['MIR22HG','SFTA1P','SNHG6','SNHG11','FAM222A-AS1','RHPN1-AS1','SNHG1','SNHG16','SNHG7','ZBP1','NLRP3','RIPK1','RIPK3','CASP1','CASP6','CASP8','PYCARD','FADD','MAP3K7','TNFAIP3','RNF31','RBCK1','PSTPIP2'][datum.value]"}},"y":{"field":"i","type":"ordinal","scale":{"range":[664,1175],"paddingInner":0,"paddingOuter":0},"axis":{"orient":"left","offset":-120,"title":null,"domain":false,"ticks":false,"grid":false,"labelPadding":2,"labelOffset":1,"labelFont":"Liberation Sans","labelFontSize":17.5,"labelColor":"#333333","labelOverlap":false,"labelExpr":"['MIR22HG','SFTA1P','SNHG6','SNHG11','FAM222A-AS1','RHPN1-AS1','SNHG1','SNHG16','SNHG7','ZBP1','NLRP3','RIPK1','RIPK3','CASP1','CASP6','CASP8','PYCARD','FADD','MAP3K7','TNFAIP3','RNF31','RBCK1','PSTPIP2'][datum.value]"}}},
"layer":[
{"mark":{"type":"rect","stroke":"white","strokeWidth":2},"encoding":{"color":{"field":"r","type":"quantitative","scale":{"domain":[-1.08,0,1.08],"range":["#3AB5D3","#FFFFFF","#E5452E"],"interpolate":"lab"},"legend":{"title":"Correlation","orient":"none","legendX":714,"legendY":874,"direction":"vertical","gradientLength":125,"gradientThickness":16,"values":[-1,-0.5,0,0.5,1],"format":".1f","titleFont":"Liberation Sans","titleFontSize":17.5,"titleFontWeight":"normal","titleColor":"#333333","titlePadding":0,"labelFont":"Liberation Sans","labelFontSize":17,"labelColor":"#4D4D4D","labelOffset":8}}}},
{"transform":[{"filter":"datum.s"}],"mark":{"type":"text","font":"Liberation Sans","fontSize":15,"color":"#222222","baseline":"middle","dy":3},"encoding":{"text":{"field":"s"}}}
]},
{"data":{"name":"flows"},
"encoding":{"x":{"field":"x","type":"quantitative","axis":null,"scale":{"domain":[-1,0,1,2,3,4],"range":[873,951,1396,1474,1919,1997],"zero":false,"nice":false}},"y":{"field":"y","type":"quantitative","axis":null,"stack":null,"scale":{"domain":[0,18],"range":[696,1095],"zero":false,"nice":false}},"color":{"field":"c","type":"nominal","legend":null,"scale":{"domain":["CASP6","NLRP3","ZBP1","CASP8","FADD","TNFAIP3","MAP3K7","PYCARD","RBCK1","RIPK1","RHPN1-AS1","MIR22HG","FAM222A-AS1","SNHG11","SNHG6","SNHG16","SNHG1","SNHG7","SFTA1P","Risk","Protect"],"range":["#E64B35","#F39B7F","#B09C85","#4DBBD5","#00A087","#7E6148","#3C5488","#8491B4","#91D1C2","#DC0000","#BC3C29","#EE4C97","#0072B5","#E18727","#20854E","#7876B1","#6F99AD","#FFDC91","#374E55","#DF8F44","#00A1D5"]}}},
"layer":[
{"mark":{"type":"area","interpolate":"monotone","orient":"vertical","opacity":0.5},"encoding":{"y2":{"field":"y2"},"detail":{"field":"f"}}},
{"data":{"name":"nodes"},"mark":{"type":"rect"},"encoding":{"x2":{"field":"x2"},"y2":{"field":"y2"}}},
{"data":{"name":"nodes"},"mark":{"type":"text","font":"Liberation Serif","fontSize":17,"dy":4},"encoding":{"x":{"field":"m","type":"quantitative"},"y":{"field":"n","type":"quantitative"},"text":{"field":"c"},"color":{"value":"#222222"}}},
{"data":{"values":[{"t":"mRNA","m":-0.5,"n":-0.54},{"t":"LncRNA","m":1.5,"n":-0.54},{"t":"Signature","m":3.5,"n":-0.54}]},"mark":{"type":"text","font":"Liberation Serif","fontSize":16.5,"dy":1},"encoding":{"x":{"field":"m","type":"quantitative"},"y":{"field":"n","type":"quantitative"},"text":{"field":"t"},"color":{"value":"#333333"}}}
]},
{"data":{"values":[{"t":"A","fx":0.005,"fy":0.0204},{"t":"B","fx":0.4445,"fy":0.0119},{"t":"C","fx":0.0055,"fy":0.5098},{"t":"D","fx":0.4417,"fy":0.508}]},
"mark":{"type":"text","font":"Liberation Sans","fontWeight":"bold","fontSize":28,"color":"#111111","dy":2.5},
"encoding":{"text":{"field":"t"},"x":{"field":"fx","type":"quantitative","axis":null,"scale":{"domain":[0,1],"range":[0,2008],"zero":false,"nice":false}},"y":{"field":"fy","type":"quantitative","axis":null,"scale":{"domain":[0,1],"range":[0,1179],"zero":false,"nice":false}}}},
{"data":{"values":[{"t":"* p < 0.05","fx":0.377,"fy":0.681},{"t":"** p < 0.01","fx":0.376,"fy":0.714}]},
"mark":{"type":"text","font":"Liberation Sans","fontSize":17.5,"color":"#333333","dy":2},
"encoding":{"text":{"field":"t"},"x":{"field":"fx","type":"quantitative","axis":null,"scale":{"domain":[0,1],"range":[0,2008],"zero":false,"nice":false}},"y":{"field":"fy","type":"quantitative","axis":null,"scale":{"domain":[0,1],"range":[0,1179],"zero":false,"nice":false}}}}
],
"resolve":{"scale":{"x":"independent","y":"independent","color":"independent"},"axis":{"x":"independent","y":"independent"},"legend":{"color":"independent"}}}
